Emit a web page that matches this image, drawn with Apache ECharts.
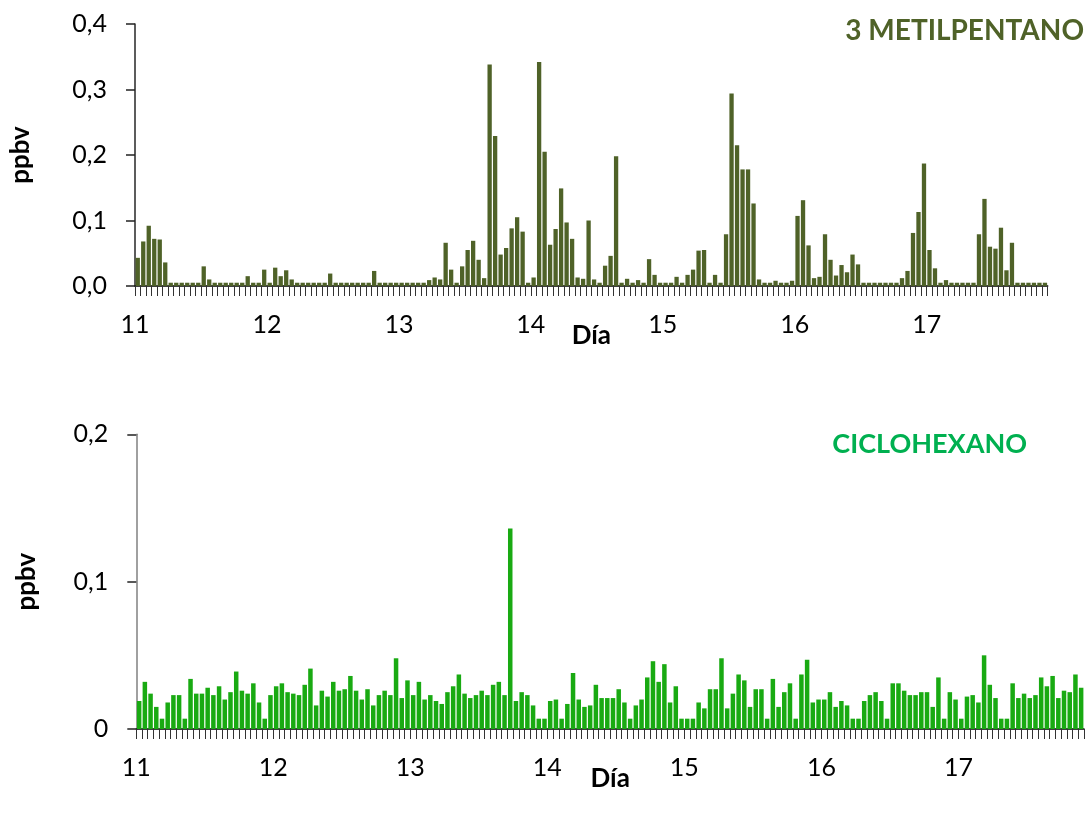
<!DOCTYPE html>
<html>
<head>
<meta charset="utf-8">
<script src="https://cdn.jsdelivr.net/npm/echarts@6/dist/echarts.min.js"></script>
<style>
  html, body { margin: 0; padding: 0; background: #fff; }
  #chart { width: 1087px; height: 825px; }
</style>
</head>
<body>
<div id="chart"></div>
<script>
// Hourly concentrations (ppbv), starting at day 11 00:00
const dayLabels = ['11', '12', '13', '14', '15', '16', '17'];
const hoursPerDay = 24;

const metilpentano = [
  0.043, 0.068, 0.092, 0.072, 0.071, 0.036, 0.005, 0.005, 0.005, 0.005, 0.005, 0.005,
  0.030, 0.010, 0.005, 0.005, 0.005, 0.005, 0.005, 0.005, 0.015, 0.005, 0.005, 0.025,
  0.005, 0.028, 0.015, 0.024, 0.010, 0.005, 0.005, 0.005, 0.005, 0.005, 0.005, 0.019,
  0.005, 0.005, 0.005, 0.005, 0.005, 0.005, 0.005, 0.023, 0.005, 0.005, 0.005, 0.005,
  0.005, 0.005, 0.005, 0.005, 0.005, 0.009, 0.013, 0.010, 0.066, 0.025, 0.005, 0.030,
  0.055, 0.069, 0.040, 0.012, 0.338, 0.229, 0.048, 0.058, 0.088, 0.105, 0.083, 0.005,
  0.013, 0.342, 0.205, 0.063, 0.087, 0.149, 0.097, 0.072, 0.013, 0.011, 0.100, 0.010,
  0.005, 0.031, 0.046, 0.198, 0.005, 0.011, 0.005, 0.009, 0.005, 0.041, 0.017, 0.005,
  0.005, 0.005, 0.014, 0.005, 0.017, 0.025, 0.054, 0.055, 0.005, 0.017, 0.005, 0.079,
  0.294, 0.215, 0.178, 0.178, 0.126, 0.010, 0.005, 0.005, 0.008, 0.005, 0.005, 0.008,
  0.107, 0.131, 0.062, 0.012, 0.014, 0.079, 0.040, 0.016, 0.032, 0.021, 0.048, 0.033,
  0.005, 0.005, 0.005, 0.005, 0.005, 0.005, 0.005, 0.012, 0.023, 0.081, 0.113, 0.187,
  0.055, 0.027, 0.005, 0.009, 0.005, 0.005, 0.005, 0.005, 0.005, 0.079, 0.133, 0.060,
  0.057, 0.089, 0.024, 0.066, 0.005, 0.005, 0.005, 0.005, 0.005, 0.005
];

const ciclohexano = [
  0.019, 0.032, 0.024, 0.015, 0.007, 0.018, 0.023, 0.023, 0.007, 0.034, 0.024, 0.024,
  0.028, 0.023, 0.029, 0.020, 0.025, 0.039, 0.026, 0.024, 0.031, 0.018, 0.007, 0.023,
  0.029, 0.031, 0.025, 0.024, 0.023, 0.030, 0.041, 0.016, 0.026, 0.022, 0.032, 0.026,
  0.027, 0.036, 0.026, 0.020, 0.027, 0.016, 0.023, 0.026, 0.023, 0.048, 0.021, 0.033,
  0.023, 0.032, 0.020, 0.023, 0.019, 0.017, 0.025, 0.029, 0.037, 0.024, 0.021, 0.023,
  0.026, 0.023, 0.030, 0.032, 0.023, 0.136, 0.019, 0.025, 0.023, 0.016, 0.007, 0.007,
  0.019, 0.020, 0.007, 0.017, 0.038, 0.020, 0.015, 0.016, 0.030, 0.021, 0.021, 0.021,
  0.027, 0.018, 0.007, 0.016, 0.020, 0.035, 0.046, 0.032, 0.044, 0.018, 0.029, 0.007,
  0.007, 0.007, 0.018, 0.014, 0.027, 0.027, 0.048, 0.014, 0.024, 0.037, 0.033, 0.015,
  0.027, 0.027, 0.007, 0.034, 0.015, 0.025, 0.031, 0.007, 0.037, 0.047, 0.018, 0.020,
  0.020, 0.025, 0.015, 0.019, 0.016, 0.007, 0.007, 0.019, 0.023, 0.025, 0.019, 0.007,
  0.031, 0.031, 0.026, 0.023, 0.023, 0.025, 0.025, 0.015, 0.035, 0.007, 0.025, 0.020,
  0.007, 0.022, 0.023, 0.018, 0.050, 0.030, 0.021, 0.007, 0.007, 0.031, 0.021, 0.024,
  0.021, 0.023, 0.035, 0.029, 0.036, 0.021, 0.026, 0.025, 0.037, 0.028
];

const FONT = 'Lato, "Open Sans", sans-serif';
const comma = v => v.toFixed(1).replace('.', ',');

// each bar sits in the middle of its hour slot
const toPoints = arr => arr.map((v, i) => [i + 0.5, v]);

function xAxisFor(gridIndex, count) {
  return {
    gridIndex,
    type: 'value',
    min: 0,
    max: count,
    interval: 1,
    name: 'Día',
    nameLocation: 'middle',
    nameGap: 37,
    nameMoveOverlap: false,
    nameTextStyle: { fontFamily: FONT, fontSize: 26, fontWeight: 'bold', color: '#000' },
    axisLine: { show: true, lineStyle: { color: '#000', width: 1.5 } },
    axisTick: { show: true, length: 10, lineStyle: { color: '#333', width: 1 } },
    axisLabel: {
      margin: 26,
      fontFamily: FONT, fontSize: 25, color: '#000',
      formatter: v => (v % hoursPerDay === 0 && dayLabels[v / hoursPerDay]) ? dayLabels[v / hoursPerDay] : ''
    },
    splitLine: { show: false }
  };
}

function yAxisFor(gridIndex, max, fmt, lineColor, nameGap) {
  return {
    gridIndex,
    type: 'value',
    min: 0,
    max,
    interval: 0.1,
    name: 'ppbv',
    nameLocation: 'middle',
    nameGap,
    nameRotate: 90,
    nameMoveOverlap: false,
    nameTextStyle: { fontFamily: FONT, fontSize: 26, fontWeight: 'bold', color: '#000' },
    axisLine: { show: true, lineStyle: { color: lineColor, width: 1.5 } },
    axisTick: { show: true, length: 9, lineStyle: { color: '#222', width: 1.5 } },
    axisLabel: { margin: 28, fontFamily: FONT, fontSize: 25, color: '#000', formatter: fmt },
    splitLine: { show: false }
  };
}

const chart = echarts.init(document.getElementById('chart'), null, { renderer: 'canvas' });

chart.setOption({
  animation: false,
  backgroundColor: '#fff',
  title: [
    {
      text: '3 METILPENTANO', right: -2, top: 12,
      textStyle: { fontFamily: FONT, fontSize: 28, fontWeight: 'bold', color: '#4f6228' }
    },
    {
      text: 'CICLOHEXANO', right: 55, top: 426,
      textStyle: { fontFamily: FONT, fontSize: 27, fontWeight: 'bold', color: '#00b050' }
    }
  ],
  grid: [
    { left: 131.7, top: 24, width: 916, height: 262 },
    { left: 136.3, top: 434.3, width: 953, height: 294.7 }
  ],
  xAxis: [xAxisFor(0, metilpentano.length), xAxisFor(1, ciclohexano.length)],
  yAxis: [
    yAxisFor(0, 0.4, v => comma(v), '#262626', 101),
    yAxisFor(1, 0.2, v => (v === 0 ? '0' : comma(v)), '#808080', 97)
  ],
  series: [
    {
      name: '3 METILPENTANO', type: 'bar', xAxisIndex: 0, yAxisIndex: 0,
      data: toPoints(metilpentano), barWidth: 4.3,
      itemStyle: { color: '#4f6228' }
    },
    {
      name: 'CICLOHEXANO', type: 'bar', xAxisIndex: 1, yAxisIndex: 1,
      data: toPoints(ciclohexano), barWidth: 4.5,
      itemStyle: { color: '#19aa12' }
    }
  ]
});
</script>
</body>
</html>
